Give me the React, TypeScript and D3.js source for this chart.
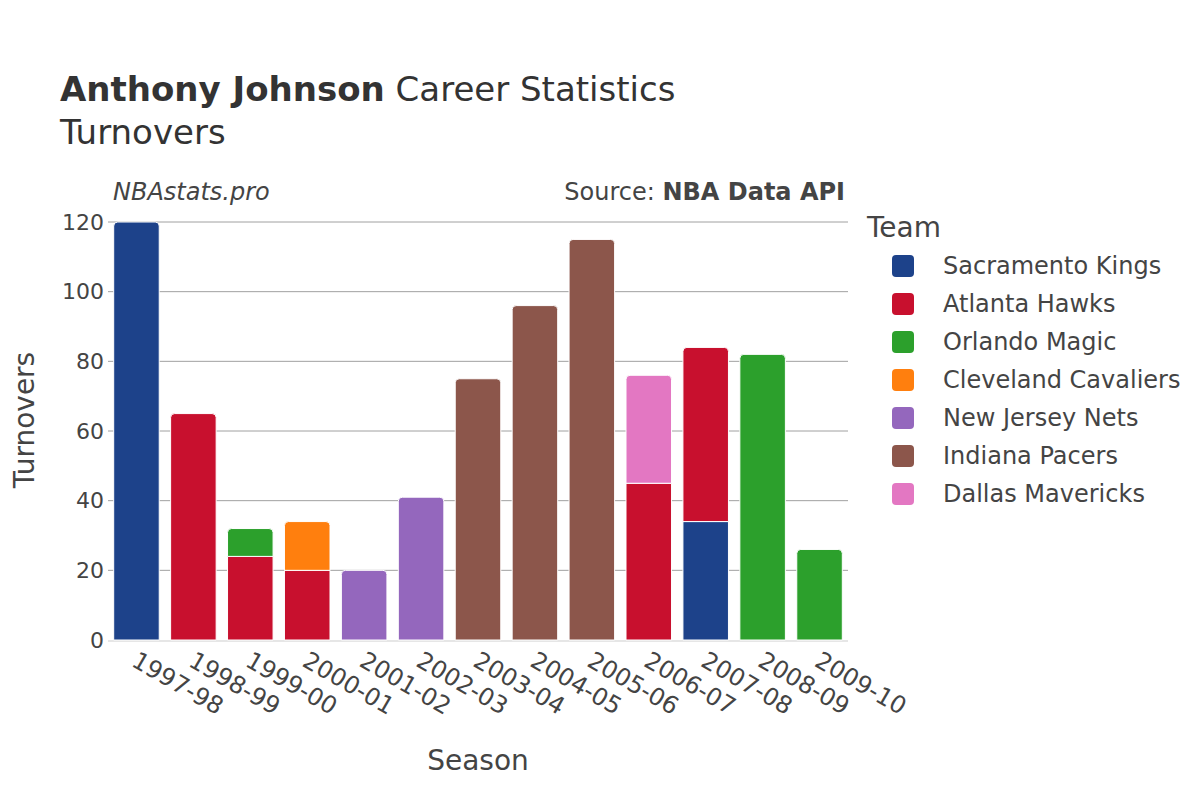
import React, { useEffect, useRef } from 'react';
import * as d3 from 'd3';

const seasons = ['1997-98', '1998-99', '1999-00', '2000-01', '2001-02', '2002-03', '2003-04', '2004-05', '2005-06', '2006-07', '2007-08', '2008-09', '2009-10'];
const teams = ['Sacramento Kings', 'Atlanta Hawks', 'Orlando Magic', 'Cleveland Cavaliers', 'New Jersey Nets', 'Indiana Pacers', 'Dallas Mavericks'];
const teamColors = ['#1d428a', '#c8102e', '#2ca02c', '#ff7f0e', '#9467bd', '#8c564b', '#e377c2'];

// turnovers per team, aligned with seasons
const sacramento = [120, 0, 0, 0, 0, 0, 0, 0, 0, 0, 34, 0, 0];
const atlanta = [0, 65, 24, 20, 0, 0, 0, 0, 0, 45, 50, 0, 0];
const orlando = [0, 0, 8, 0, 0, 0, 0, 0, 0, 0, 0, 82, 26];
const cleveland = [0, 0, 0, 14, 0, 0, 0, 0, 0, 0, 0, 0, 0];
const newJersey = [0, 0, 0, 0, 20, 41, 0, 0, 0, 0, 0, 0, 0];
const indiana = [0, 0, 0, 0, 0, 0, 75, 96, 115, 0, 0, 0, 0];
const dallas = [0, 0, 0, 0, 0, 0, 0, 0, 0, 31, 0, 0, 0];
const series = [sacramento, atlanta, orlando, cleveland, newJersey, indiana, dallas];
const yTicks = [0, 20, 40, 60, 80, 100, 120];

const FONT = '"DejaVu Sans", sans-serif';

const App: React.FC = () => {
  const svgRef = useRef<SVGSVGElement>(null);

  useEffect(() => {
    if (!svgRef.current) return;
    const width = 1200;
    const height = 800;
    const m = { left: 108, right: 848, top: 222, bottom: 640 };

    const svg = d3.select(svgRef.current);
    svg.selectAll('*').remove();
    svg.attr('width', width).attr('height', height).style('font-family', FONT);

    svg.append('rect').attr('width', width).attr('height', height).attr('fill', '#fff');

    const x = d3.scaleBand<string>().domain(seasons).range([m.left, m.right]).paddingInner(0.2).paddingOuter(0.1);
    const y = d3.scaleLinear().domain([0, 120]).range([m.bottom, m.top]);

    // grid
    svg.append('g')
      .selectAll('line')
      .data(yTicks.filter(t => t > 0))
      .join('line')
      .attr('x1', m.left).attr('x2', m.right)
      .attr('y1', d => y(d)).attr('y2', d => y(d))
      .attr('stroke', '#a0a0a0').attr('stroke-width', 1);

    // zero line
    svg.append('line')
      .attr('x1', m.left).attr('x2', m.right)
      .attr('y1', y(0) + 1).attr('y2', y(0) + 1)
      .attr('stroke', '#e6e6e6').attr('stroke-width', 2);

    // stacked bars
    const stacked = d3.stack<number>()
      .keys(d3.range(teams.length) as any)
      .value((i: number, k: any) => series[k][i])(d3.range(seasons.length));

    const topIdx = seasons.map((_, i) => {
      let t = -1;
      series.forEach((s, k) => { if (s[i] > 0) t = k; });
      return t;
    });

    const r = 4;
    const barG = svg.append('g');
    stacked.forEach((layer, k) => {
      layer.forEach((seg, i) => {
        const v = series[k][i];
        if (!v) return;
        const x0 = x(seasons[i])!;
        const w = x.bandwidth();
        const yTop = y(seg[1]);
        const yBot = y(seg[0]);
        let d: string;
        if (topIdx[i] === k) {
          d = `M${x0},${yBot} L${x0},${yTop + r} Q${x0},${yTop} ${x0 + r},${yTop} L${x0 + w - r},${yTop} Q${x0 + w},${yTop} ${x0 + w},${yTop + r} L${x0 + w},${yBot} Z`;
        } else {
          d = `M${x0},${yBot} L${x0},${yTop} L${x0 + w},${yTop} L${x0 + w},${yBot} Z`;
        }
        barG.append('path')
          .attr('d', d)
          .attr('fill', teamColors[k])
          .attr('stroke', '#fff')
          .attr('stroke-width', 1);
      });
    });

    // y ticks
    svg.append('g')
      .selectAll('text')
      .data(yTicks)
      .join('text')
      .attr('x', m.left - 4)
      .attr('y', d => y(d))
      .attr('dy', '0.35em')
      .attr('text-anchor', 'end')
      .attr('font-size', 22)
      .attr('fill', '#444')
      .text(d => d);

    // x ticks
    svg.append('g')
      .selectAll('text')
      .data(seasons)
      .join('text')
      .attr('transform', d => `translate(${x(d)! + x.bandwidth() / 2 - 2},${m.bottom + 18}) rotate(30)`)
      .attr('text-anchor', 'start')
      .attr('dy', '0.35em')
      .attr('font-size', 24)
      .attr('fill', '#444')
      .text(d => d);

    // axis titles
    svg.append('text')
      .attr('x', (m.left + m.right) / 2)
      .attr('y', 770)
      .attr('text-anchor', 'middle')
      .attr('font-size', 28)
      .attr('fill', '#444')
      .text('Season');

    svg.append('text')
      .attr('transform', `translate(24,420) rotate(-90)`)
      .attr('text-anchor', 'middle')
      .attr('dy', '0.35em')
      .attr('font-size', 28)
      .attr('fill', '#444')
      .text('Turnovers');

    // title
    const title = svg.append('text').attr('x', 60).attr('y', 101).attr('font-size', 34).attr('fill', '#333');
    title.append('tspan').attr('font-weight', 'bold').text('Anthony Johnson');
    title.append('tspan').text(' Career Statistics');
    svg.append('text').attr('x', 60).attr('y', 144).attr('font-size', 34).attr('fill', '#333').text('Turnovers');

    svg.append('text')
      .attr('x', 113).attr('y', 200)
      .attr('font-size', 24).attr('font-style', 'italic').attr('fill', '#444')
      .text('NBAstats.pro');

    const src = svg.append('text').attr('x', 845).attr('y', 200).attr('text-anchor', 'end').attr('font-size', 24).attr('fill', '#444');
    src.append('tspan').text('Source: ');
    src.append('tspan').attr('font-weight', 'bold').text('NBA Data API');

    // legend
    svg.append('text').attr('x', 867).attr('y', 237).attr('font-size', 28).attr('fill', '#444').text('Team');
    const lg = svg.append('g')
      .selectAll('g')
      .data(teams)
      .join('g')
      .attr('transform', (_, i) => `translate(892,${266 + i * 38})`);
    lg.append('rect')
      .attr('x', 0).attr('y', -11).attr('width', 22).attr('height', 22).attr('rx', 4)
      .attr('fill', (_, i) => teamColors[i]);
    lg.append('text')
      .attr('x', 51).attr('dy', '0.35em')
      .attr('font-size', 24).attr('fill', '#444')
      .text(d => d);
  }, []);

  return <svg ref={svgRef} style={{ display: 'block', position: 'absolute', left: 0, top: 0 }} />;
};

export default App;
